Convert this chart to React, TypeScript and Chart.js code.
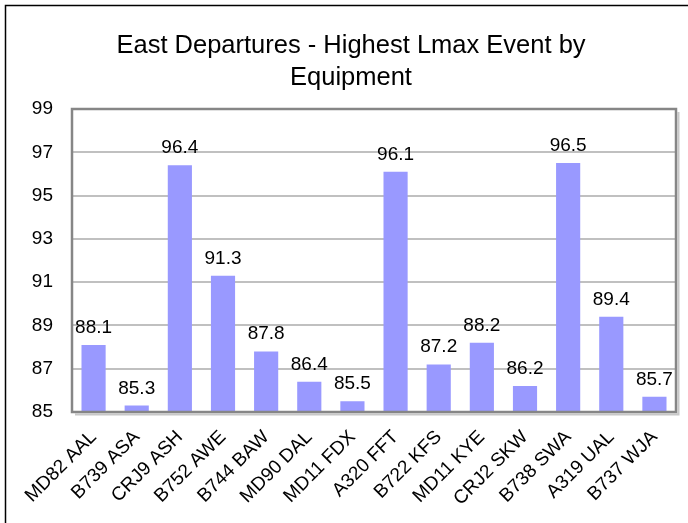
import React, { useEffect, useRef } from "react";
import { Chart, registerables } from "chart.js";

Chart.register(...registerables);

const categories = [
  "MD82 AAL",
  "B739 ASA",
  "CRJ9 ASH",
  "B752 AWE",
  "B744 BAW",
  "MD90 DAL",
  "MD11 FDX",
  "A320 FFT",
  "B722 KFS",
  "MD11 KYE",
  "CRJ2 SKW",
  "B738 SWA",
  "A319 UAL",
  "B737 WJA",
];
const lmaxValues = [88.1, 85.3, 96.4, 91.3, 87.8, 86.4, 85.5, 96.1, 87.2, 88.2, 86.2, 96.5, 89.4, 85.7];
const yMin = 85;
const yMax = 99;
const yStep = 2;
const titleLines = ["East Departures - Highest Lmax Event by", "Equipment"];

const FONT = "'Liberation Sans', Arial, sans-serif";

export default function App() {
  const ref = useRef<HTMLCanvasElement>(null);

  useEffect(() => {
    document.body.style.margin = "0";
    const canvas = ref.current!;

    const framePlugin = {
      id: "framePlugin",
      beforeDraw(chart: any) {
        const ctx = chart.ctx;
        ctx.save();
        ctx.fillStyle = "#ffffff";
        ctx.fillRect(0, 0, chart.width, chart.height);
        ctx.strokeStyle = "#000000";
        ctx.lineWidth = 1.5;
        ctx.beginPath();
        ctx.moveTo(5.5, chart.height);
        ctx.lineTo(5.5, 5.5);
        ctx.lineTo(chart.width, 5.5);
        ctx.stroke();
        // title
        ctx.fillStyle = "#000000";
        ctx.font = `25.5px ${FONT}`;
        ctx.textAlign = "center";
        ctx.textBaseline = "alphabetic";
        ctx.fillText(titleLines[0], 351, 53);
        ctx.fillText(titleLines[1], 351, 85);
        ctx.restore();
      },
      afterDatasetsDraw(chart: any) {
        const ctx = chart.ctx;
        const a = chart.chartArea;
        ctx.save();
        // shadow
        ctx.strokeStyle = "#c8c8c8";
        ctx.lineWidth = 2;
        ctx.beginPath();
        ctx.moveTo(a.left + 3, a.bottom + 2.5);
        ctx.lineTo(a.right + 2.5, a.bottom + 2.5);
        ctx.lineTo(a.right + 2.5, a.top + 3);
        ctx.stroke();
        // plot border
        ctx.strokeStyle = "#868686";
        ctx.lineWidth = 2.5;
        ctx.strokeRect(a.left, a.top, a.right - a.left, a.bottom - a.top);
        // data labels
        ctx.fillStyle = "#000000";
        ctx.font = `19px ${FONT}`;
        ctx.textAlign = "center";
        ctx.textBaseline = "alphabetic";
        const meta = chart.getDatasetMeta(0);
        meta.data.forEach((bar: any, i: number) => {
          ctx.fillText(lmaxValues[i].toFixed(1), bar.x, bar.y - 12);
        });
        ctx.restore();
      },
    };

    const chart = new Chart(canvas, {
      type: "bar",
      data: {
        labels: categories,
        datasets: [
          {
            data: lmaxValues,
            backgroundColor: "#9999FF",
            borderWidth: 0,
            barPercentage: 0.56,
            categoryPercentage: 1,
          },
        ],
      },
      options: {
        animation: false,
        responsive: false,
        devicePixelRatio: 1,
        layout: { padding: { left: 0, right: 12, top: 109, bottom: 0 } },
        plugins: {
          legend: { display: false },
          tooltip: { enabled: false },
          title: { display: false },
        },
        scales: {
          x: {
            grid: { display: false },
            border: { display: false },
            ticks: {
              color: "#000000",
              font: { family: FONT, size: 19 },
              maxRotation: 45,
              minRotation: 45,
              autoSkip: false,
              padding: 6,
            },
            afterFit(scale: any) {
              scale.height = 111;
            },
          },
          y: {
            min: yMin,
            max: yMax,
            ticks: {
              stepSize: yStep,
              color: "#000000",
              font: { family: FONT, size: 19 },
              padding: 19,
            },
            grid: { color: "#c0c0c0", lineWidth: 2, drawTicks: false },
            border: { display: false },
            afterFit(scale: any) {
              scale.width = 72;
            },
          },
        },
      },
      plugins: [framePlugin],
    });

    return () => chart.destroy();
  }, []);

  return <canvas ref={ref} width={688} height={523} style={{ display: "block" }} />;
}
